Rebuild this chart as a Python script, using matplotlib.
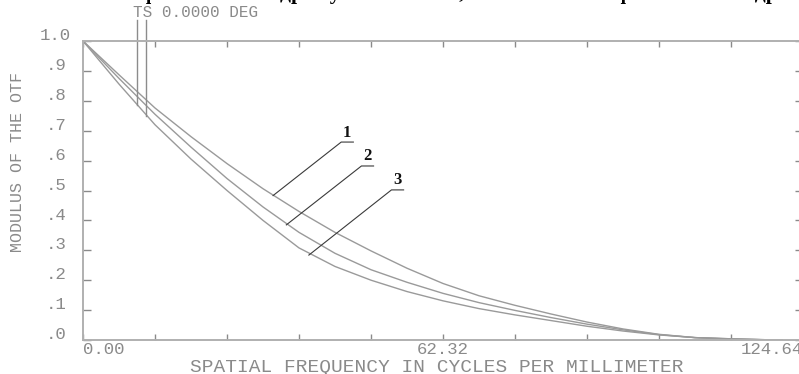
# Zemax-style MTF plot: modulus of the OTF vs spatial frequency, three focus positions
import matplotlib.pyplot as plt
import matplotlib.transforms as mtransforms
import numpy as np

# ------------------ Data ------------------
freq = [0.0, 6.23, 12.46, 18.70, 24.93, 31.16, 37.39, 43.62, 49.86, 56.09,
        62.32, 68.55, 74.78, 81.02, 87.25, 93.48, 99.71, 105.94,
        112.18, 118.41, 121.0]
mtf_1 = [1.0, 0.887, 0.776, 0.680, 0.590, 0.506, 0.430, 0.360, 0.298, 0.240,
         0.189, 0.148, 0.116, 0.087, 0.060, 0.037, 0.019, 0.008,
         0.003, 0.0006, 0.0]
mtf_2 = [1.0, 0.875, 0.755, 0.645, 0.540, 0.445, 0.360, 0.290, 0.235, 0.193,
         0.156, 0.125, 0.099, 0.075, 0.053, 0.034, 0.018, 0.008,
         0.004, 0.0008, 0.0]
mtf_3 = [1.0, 0.856, 0.720, 0.605, 0.500, 0.400, 0.308, 0.246, 0.200, 0.162,
         0.131, 0.105, 0.084, 0.065, 0.046, 0.030, 0.017, 0.008,
         0.004, 0.0008, 0.0]

curve_labels = ["1", "2", "3"]
# leader: point on the curve -> corner under the number
leader_start = [(32.9, 0.483), (35.2, 0.385), (39.1, 0.284)]
leader_end = [(44.7, 0.662), (48.2, 0.582), (53.4, 0.502)]

ts_freq = [9.35, 10.9]
ts_bottom = [0.786, 0.749]

xmax = 124.64
xtick_pos = list(np.linspace(0, xmax, 11))
xtick_text = ["0.00", "", "", "", "", "62.32", "", "", "", "", "124.64"]
ytick_pos = [round(0.1 * i, 1) for i in range(11)]
ytick_text = [".0", ".1", ".2", ".3", ".4", ".5", ".6", ".7", ".8", ".9", "1.0"]

title_text = ("зменшенні фокального відрізку на 0.009 мм; 3 – збільшенні "
              "фокального відрізку на 0.009 мм")

# ------------------ Style ------------------
GREY_TXT = '#8a8a8a'
GREY_AX = '#b0b0b0'
GREY_LINE = '#9a9a9a'
MONO = 'Liberation Mono'

W, H = 799, 374
fig = plt.figure(figsize=(W / 100, H / 100), dpi=100)
ax = fig.add_axes([83 / W, (H - 340) / H, 720 / W, 299 / H])

for y in [mtf_1, mtf_2, mtf_3]:
    ax.plot(freq, y, color=GREY_LINE, linewidth=1.0)

# leader lines and underlined numbers
for (x0, y0), (x1, y1), lab in zip(leader_start, leader_end, curve_labels):
    ax.plot([x0, x1, x1 + 2.1], [y0, y1, y1], color='#3a3a3a', linewidth=0.8)
    ax.text(x1 + 1.05, y1 + 0.005, lab, ha='center', va='bottom',
            family='Liberation Serif', fontweight='bold', fontsize=12,
            color='#111111')

# TS marker lines
for xf, yb in zip(ts_freq, ts_bottom):
    ax.plot([xf, xf], [1.07, yb], color='#8c8c8c', linewidth=1.0, clip_on=False)
ax.text(8.7, 1.094, "TS 0.0000 DEG", ha='left', va='center', family=MONO,
        fontsize=11.5, color=GREY_TXT, clip_on=False)

ax.set_xlim(0, xmax)
ax.set_ylim(0, 1.0)

for s in ['left', 'top', 'bottom', 'right']:
    ax.spines[s].set_color(GREY_AX)
    ax.spines[s].set_linewidth(1.4)

ax.set_xticks(xtick_pos)
ax.set_xticklabels(xtick_text, family=MONO, fontsize=12.5, color=GREY_TXT)
labs = ax.get_xticklabels()
labs[0].set_horizontalalignment('left')
labs[-1].set_horizontalalignment('right')
shift = mtransforms.ScaledTranslation(-4 / 72, 0, fig.dpi_scale_trans)
labs[-1].set_transform(labs[-1].get_transform() + shift)
ax.tick_params(axis='x', direction='in', length=4.5, width=1.0, color=GREY_TXT,
               top=True, bottom=True, pad=1.5)

ax.set_yticks(ytick_pos)
ax.set_yticklabels([])
ax.tick_params(axis='y', direction='in', length=6, width=1.0, color=GREY_TXT,
               left=True, right=True)
ytr = ax.get_yaxis_transform()
for v, lab in zip(ytick_pos, ytick_text):
    ax.text(-0.038, v + 0.018, lab, transform=ytr, ha='center', va='center',
            family=MONO, fontsize=12.5, color=GREY_TXT, clip_on=False)

fig.text(437 / W, 1 - 367 / H, "SPATIAL FREQUENCY IN CYCLES PER MILLIMETER",
         ha='center', va='center', family=MONO, fontsize=14, color=GREY_TXT)
fig.text(18 / W, 1 - 162 / H, "MODULUS OF THE OTF", rotation=90,
         ha='center', va='center', family=MONO, fontsize=12, color=GREY_TXT)

# caption cut off by the top edge
fig.text(32 / W, 1 + 1.5 / H, title_text, ha='left', va='baseline',
         family='Liberation Serif', fontweight='bold', fontsize=15.5, color='black')

fig.savefig("out.png", dpi=100)
